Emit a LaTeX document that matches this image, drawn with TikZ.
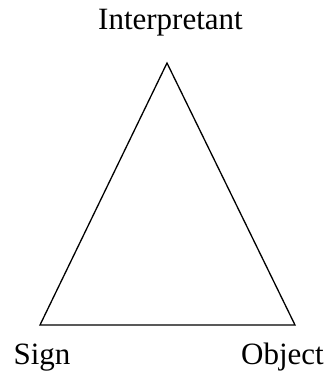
\documentclass[tikz,border=0pt]{standalone}
\usepackage{fontspec}
\setmainfont{Liberation Serif}
\usetikzlibrary{positioning}

\begin{document}
\begin{tikzpicture}[
  x=1pt,y=1pt,
  corner/.style={anchor=base,inner sep=0pt,font=\fontsize{31}{35}\selectfont},
  edge/.style={draw=black,line width=1.3pt,line join=miter}
]
\useasboundingbox (0,0) rectangle (328,372);
% vertices of the triangle
\coordinate (top) at (167,309);
\coordinate (left) at (40,47);
\coordinate (right) at (295,47);
% labels
\node[corner] (interpretant) at (170.5,342) {Interpretant};
\node[corner] (sign) at (42,8) {Sign};
\node[corner] (object) at (282.5,8) {Object};
\draw[edge] (left) -- (top) -- (right) -- cycle;
\end{tikzpicture}
\end{document}
